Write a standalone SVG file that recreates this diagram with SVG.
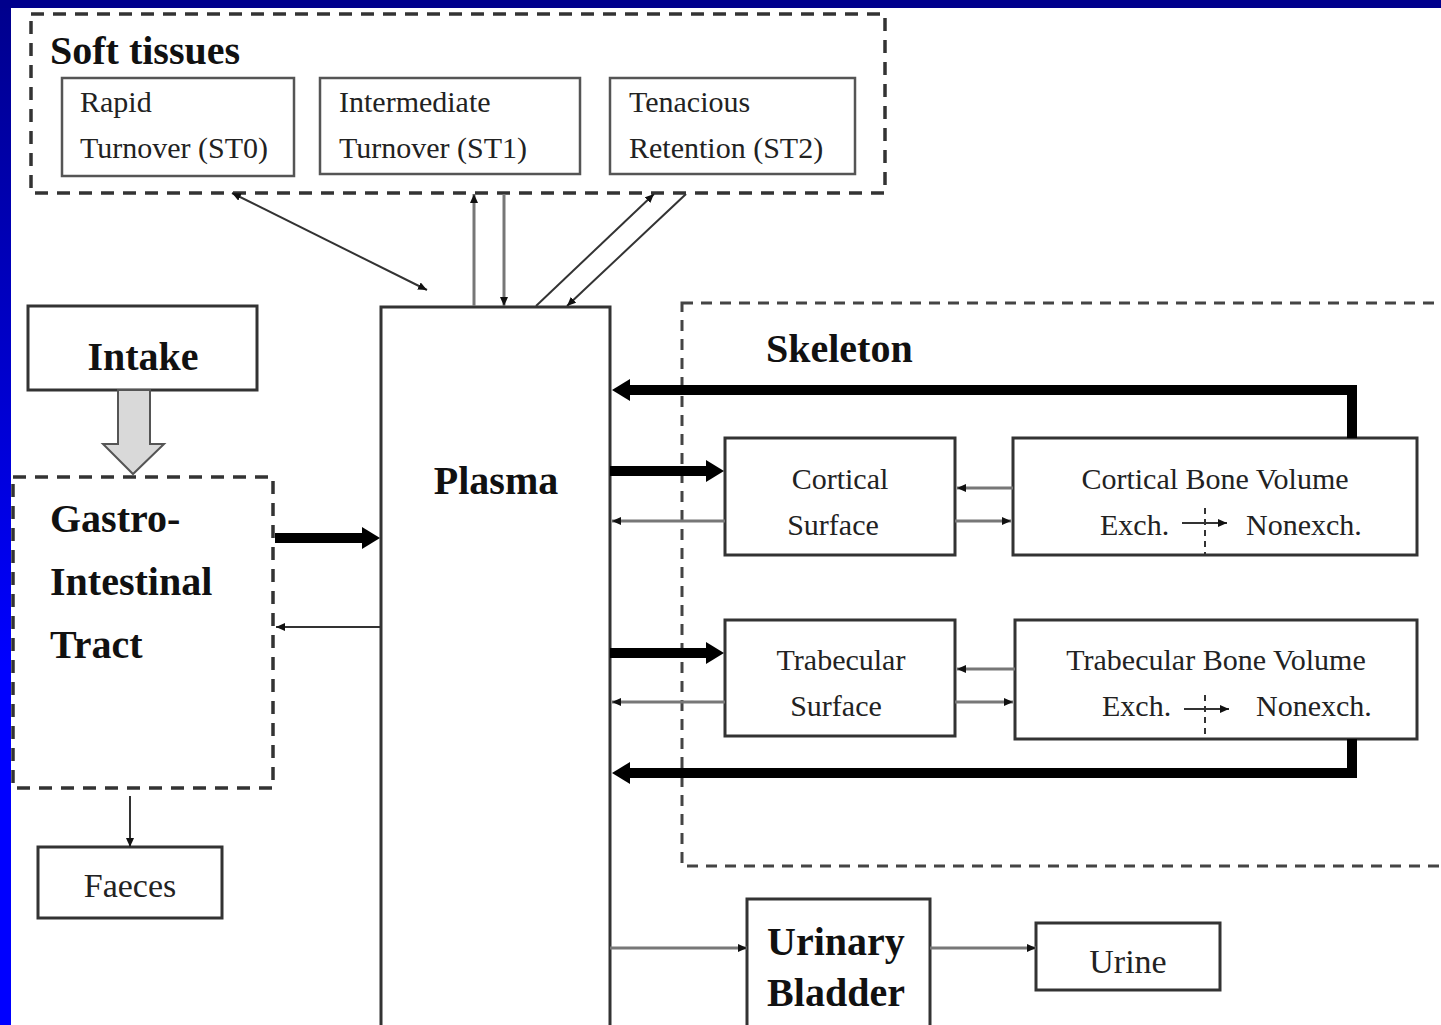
<svg xmlns="http://www.w3.org/2000/svg" width="1441" height="1025" viewBox="0 0 1441 1025">
<defs>
<linearGradient id="blueband" x1="0" y1="0" x2="0" y2="1">
<stop offset="0" stop-color="#00008c"/>
<stop offset="0.65" stop-color="#0000ff"/>
<stop offset="1" stop-color="#0000ff"/>
</linearGradient>
<marker id="thick" viewBox="0 0 18 22" refX="0" refY="11" markerWidth="18" markerHeight="22" markerUnits="userSpaceOnUse" orient="auto">
<path d="M0,0 L18,11 L0,22 z" fill="#000"/>
</marker>
<marker id="thin" viewBox="0 0 9 8" refX="9" refY="4" markerWidth="9" markerHeight="8" markerUnits="userSpaceOnUse" orient="auto">
<path d="M0,0 L9,4 L0,8 z" fill="#111"/>
</marker>
<marker id="thinStart" viewBox="0 0 9 8" refX="0" refY="4" markerWidth="9" markerHeight="8" markerUnits="userSpaceOnUse" orient="auto">
<path d="M9,0 L0,4 L9,8 z" fill="#111"/>
</marker>
</defs>
<style>
.box{fill:#fff;stroke:#333;stroke-width:3}
.sbox{fill:#fff;stroke:#555;stroke-width:2.5}
.dash{fill:none;stroke:#333;stroke-width:3.5;stroke-dasharray:13 9}
.dash2{fill:none;stroke:#444;stroke-width:3;stroke-dasharray:11 8}
.bold{font-family:"Liberation Serif","Times New Roman",serif;font-weight:bold;font-size:40px;fill:#111}
.reg{font-family:"Liberation Serif","Times New Roman",serif;font-size:30px;fill:#222}
.reg34{font-family:"Liberation Serif","Times New Roman",serif;font-size:34px;fill:#222}
.thin{fill:none;stroke:#777;stroke-width:3;marker-end:url(#thin)}
.thinb{fill:none;stroke:#333;stroke-width:2;marker-end:url(#thin)}
.thick{fill:none;stroke:#000;stroke-width:10;marker-end:url(#thick)}
</style>
<rect x="0" y="0" width="1441" height="1025" fill="#fff"/>
<rect x="0" y="0" width="11" height="1025" fill="url(#blueband)"/>
<rect x="0" y="0" width="1441" height="8" fill="#00008c"/>

<g id="soft-tissues">
<rect class="dash" x="31" y="14" width="854" height="179"/>
<text class="bold" x="50" y="64">Soft tissues</text>
</g>
<g id="st0">
<rect class="sbox" x="62" y="78" width="232" height="98"/>
<text class="reg" x="80" y="112">Rapid</text>
<text class="reg" x="80" y="158">Turnover (ST0)</text>
</g>
<g id="st1">
<rect class="sbox" x="320" y="78" width="260" height="96"/>
<text class="reg" x="339" y="112">Intermediate</text>
<text class="reg" x="339" y="158">Turnover (ST1)</text>
</g>
<g id="st2">
<rect class="sbox" x="610" y="78" width="245" height="96"/>
<text class="reg" x="629" y="112">Tenacious</text>
<text class="reg" x="629" y="158">Retention (ST2)</text>
</g>

<g id="plasma">
<rect class="box" x="381" y="307" width="229" height="730"/>
<text class="bold" x="496" y="494" text-anchor="middle">Plasma</text>
</g>

<g id="intake">
<rect class="box" x="28" y="306" width="229" height="84"/>
<text class="bold" x="143" y="370" text-anchor="middle">Intake</text>
</g>

<g id="gi-tract">
<rect class="dash" x="13" y="477" width="260" height="311"/>
<text class="bold" x="50" y="532">Gastro-</text>
<text class="bold" x="50" y="595">Intestinal</text>
<text class="bold" x="50" y="658">Tract</text>
</g>

<g id="faeces">
<rect class="box" x="38" y="847" width="184" height="71"/>
<text class="reg34" x="130" y="897" text-anchor="middle">Faeces</text>
</g>

<g id="skeleton">
<rect class="dash2" x="682" y="303" width="800" height="563"/>
<text class="bold" x="766" y="362">Skeleton</text>
</g>

<g id="cortical-surface">
<rect class="box" x="725" y="438" width="230" height="117"/>
<text class="reg" x="840" y="489" text-anchor="middle">Cortical</text>
<text class="reg" x="833" y="535" text-anchor="middle">Surface</text>
</g>

<g id="cortical-volume">
<rect class="box" x="1013" y="438" width="404" height="117"/>
<text class="reg" x="1215" y="489" text-anchor="middle">Cortical Bone Volume</text>
<text class="reg" x="1100" y="535">Exch.</text>
<text class="reg" x="1246" y="535">Nonexch.</text>
<line x1="1205" y1="508" x2="1205" y2="554" stroke="#333" stroke-width="2" stroke-dasharray="6 5"/>
<line x1="1182" y1="523" x2="1227" y2="523" class="thinb"/>
</g>

<g id="trabecular-surface">
<rect class="box" x="725" y="620" width="230" height="116"/>
<text class="reg" x="841" y="670" text-anchor="middle">Trabecular</text>
<text class="reg" x="836" y="716" text-anchor="middle">Surface</text>
</g>

<g id="trabecular-volume">
<rect class="box" x="1015" y="620" width="402" height="119"/>
<text class="reg" x="1216" y="670" text-anchor="middle">Trabecular Bone Volume</text>
<text class="reg" x="1102" y="716">Exch.</text>
<text class="reg" x="1256" y="716">Nonexch.</text>
<line x1="1205" y1="695" x2="1205" y2="738" stroke="#333" stroke-width="2" stroke-dasharray="6 5"/>
<line x1="1184" y1="709" x2="1229" y2="709" class="thinb"/>
</g>

<g id="urinary-bladder">
<rect class="box" x="747" y="899" width="183" height="140"/>
<text class="bold" x="836" y="955" text-anchor="middle">Urinary</text>
<text class="bold" x="836" y="1006" text-anchor="middle">Bladder</text>
</g>

<g id="urine">
<rect class="box" x="1036" y="923" width="184" height="67"/>
<text class="reg34" x="1128" y="973" text-anchor="middle">Urine</text>
</g>

<g id="connectors">
<!-- intake block arrow -->
<path d="M118,390 H150 V444 H164 L133,474 L103,444 H118 Z" fill="#d9d9d9" stroke="#555" stroke-width="2"/>
<!-- soft tissues <-> plasma -->
<line x1="232" y1="193" x2="427" y2="290" class="thinb" marker-start="url(#thinStart)"/>
<line x1="474" y1="306" x2="474" y2="194" class="thin"/>
<line x1="504" y1="194" x2="504" y2="306" class="thin"/>
<line x1="536" y1="306" x2="654" y2="194" class="thinb"/>
<line x1="686" y1="194" x2="567" y2="306" class="thinb"/>
<!-- GI <-> plasma -->
<line x1="275" y1="538" x2="362" y2="538" class="thick"/>
<line x1="380" y1="627" x2="276" y2="627" class="thinb"/>
<!-- GI -> faeces -->
<line x1="130" y1="796" x2="130" y2="847" class="thinb"/>
<!-- plasma -> surfaces (thick) -->
<line x1="610" y1="471" x2="706" y2="471" class="thick"/>
<line x1="610" y1="653" x2="706" y2="653" class="thick"/>
<!-- surfaces -> plasma (thin) -->
<line x1="725" y1="521" x2="612" y2="521" class="thin"/>
<line x1="725" y1="702" x2="612" y2="702" class="thin"/>
<!-- surface <-> volume -->
<line x1="1013" y1="488" x2="957" y2="488" class="thin"/>
<line x1="955" y1="521" x2="1011" y2="521" class="thin"/>
<line x1="1015" y1="669" x2="957" y2="669" class="thin"/>
<line x1="955" y1="702" x2="1013" y2="702" class="thin"/>
<!-- volumes -> plasma (thick) -->
<path d="M1352,438 V390 H630" class="thick"/>
<path d="M1352,739 V773 H630" class="thick"/>
<!-- plasma -> bladder -> urine -->
<line x1="610" y1="948" x2="747" y2="948" class="thin"/>
<line x1="930" y1="948" x2="1036" y2="948" class="thin"/>
</g>
</svg>
